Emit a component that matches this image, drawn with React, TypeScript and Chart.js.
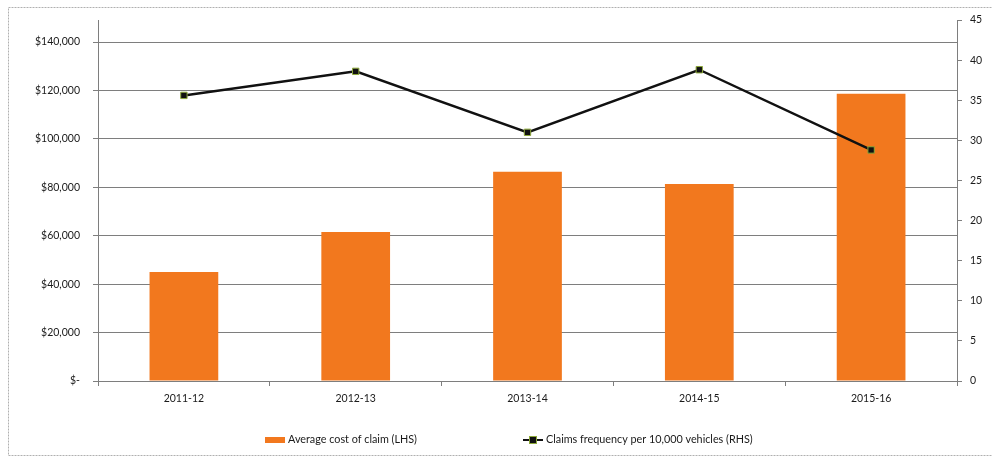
import React, { useEffect, useRef } from "react";
import { Chart, registerables } from "chart.js";

Chart.register(...registerables);

const categories = ["2011-12", "2012-13", "2013-14", "2014-15", "2015-16"];
const avgCost = [45000, 61500, 86400, 81400, 118600];
const claimsFreq = [35.6, 38.6, 31.0, 38.8, 28.8];
const leftTicks = [0, 20000, 40000, 60000, 80000, 100000, 120000, 140000];
const rightTicks = [0, 5, 10, 15, 20, 25, 30, 35, 40, 45];
const legendLabels = [
  "Average cost of claim (LHS)",
  "Claims frequency per 10,000 vehicles (RHS)",
];

const BAR_COLOR = "#F2781E";
const LINE_COLOR = "#111111";
const MARKER_BORDER = "#8DA83A";
const GRID_COLOR = "#7e7e7e";
const TEXT_COLOR = "#1a1a1a";
const FONT_FAMILY = "Lato, 'Open Sans', sans-serif";

export default function App() {
  const canvasRef = useRef<HTMLCanvasElement | null>(null);

  useEffect(() => {
    document.body.style.margin = "0";
    const canvas = canvasRef.current;
    if (!canvas) return;

    const framePlugin = {
      id: "frame",
      beforeDraw(chart: any) {
        const ctx = chart.ctx;
        ctx.save();
        ctx.fillStyle = "#ffffff";
        ctx.fillRect(0, 0, chart.width, chart.height);
        ctx.strokeStyle = "#b0b0b0";
        ctx.lineWidth = 1;
        ctx.setLineDash([2, 1]);
        ctx.strokeRect(8.5, 7.5, 995, 448);
        ctx.restore();
      },
      afterDraw(chart: any) {
        const ctx = chart.ctx;
        ctx.save();
        const y = 440;
        ctx.font = `10.8px ${FONT_FAMILY}`;
        ctx.textBaseline = "middle";
        ctx.textAlign = "left";
        // bar legend
        ctx.fillStyle = BAR_COLOR;
        ctx.fillRect(265, y - 3, 20, 6);
        ctx.fillStyle = TEXT_COLOR;
        ctx.fillText(legendLabels[0], 288, y);
        // line legend
        ctx.strokeStyle = LINE_COLOR;
        ctx.lineWidth = 2;
        ctx.beginPath();
        ctx.moveTo(523, y);
        ctx.lineTo(543, y);
        ctx.stroke();
        ctx.fillStyle = LINE_COLOR;
        ctx.fillRect(530, y - 3, 6, 6);
        ctx.strokeStyle = MARKER_BORDER;
        ctx.lineWidth = 1;
        ctx.strokeRect(529.5, y - 3.5, 7, 7);
        ctx.fillStyle = TEXT_COLOR;
        ctx.fillText(legendLabels[1], 546, y);
        ctx.restore();
      },
    };

    const chart = new Chart(canvas, {
      type: "bar",
      data: {
        labels: categories,
        datasets: [
          {
            type: "line",
            label: legendLabels[1],
            data: claimsFreq,
            yAxisID: "y1",
            borderColor: LINE_COLOR,
            borderWidth: 2.5,
            pointStyle: "rect",
            pointRadius: 4.5,
            pointBackgroundColor: LINE_COLOR,
            pointBorderColor: MARKER_BORDER,
            pointBorderWidth: 1,
            tension: 0,
            order: 0,
          } as any,
          {
            type: "bar",
            label: legendLabels[0],
            data: avgCost,
            yAxisID: "y",
            backgroundColor: BAR_COLOR,
            borderWidth: 0,
            categoryPercentage: 1,
            barPercentage: 0.4,
            order: 1,
          },
        ],
      },
      options: {
        responsive: false,
        animation: false,
        devicePixelRatio: 1,
        layout: { padding: { top: 20, left: 0, right: 0, bottom: 48 } },
        plugins: {
          legend: { display: false },
          tooltip: { enabled: false },
        },
        scales: {
          x: {
            offset: true,
            grid: {
              display: true,
              drawOnChartArea: false,
              offset: true,
              color: GRID_COLOR,
              tickLength: 5,
            },
            border: { display: true, color: GRID_COLOR },
            ticks: {
              color: TEXT_COLOR,
              font: { family: FONT_FAMILY, size: 10.5 },
              padding: 6,
              maxRotation: 0,
            },
            afterFit(scale: any) {
              scale.height = 30;
            },
          },
          y: {
            position: "left",
            min: 0,
            max: 149100,
            afterBuildTicks(scale: any) {
              scale.ticks = leftTicks.map((v) => ({ value: v }));
            },
            grid: {
              color: GRID_COLOR,
              tickLength: 5,
            },
            border: { display: true, color: GRID_COLOR },
            ticks: {
              color: TEXT_COLOR,
              font: { family: FONT_FAMILY, size: 10.5 },
              padding: 13,
              callback: (v: any) =>
                Number(v) === 0 ? "$-" : "$" + Number(v).toLocaleString("en-US"),
            },
            afterFit(scale: any) {
              scale.width = 98;
            },
          },
          y1: {
            position: "right",
            min: 0,
            max: 45,
            afterBuildTicks(scale: any) {
              scale.ticks = rightTicks.map((v) => ({ value: v }));
            },
            grid: {
              drawOnChartArea: false,
              color: GRID_COLOR,
              tickLength: 5,
            },
            border: { display: true, color: GRID_COLOR },
            ticks: {
              color: TEXT_COLOR,
              font: { family: FONT_FAMILY, size: 10.5 },
              padding: 8,
            },
            afterFit(scale: any) {
              scale.width = 35;
            },
          },
        },
      },
      plugins: [framePlugin],
    });

    return () => {
      chart.destroy();
    };
  }, []);

  return (
    <canvas
      ref={canvasRef}
      width={992}
      height={459}
      style={{ display: "block", width: 992, height: 459 }}
    />
  );
}
